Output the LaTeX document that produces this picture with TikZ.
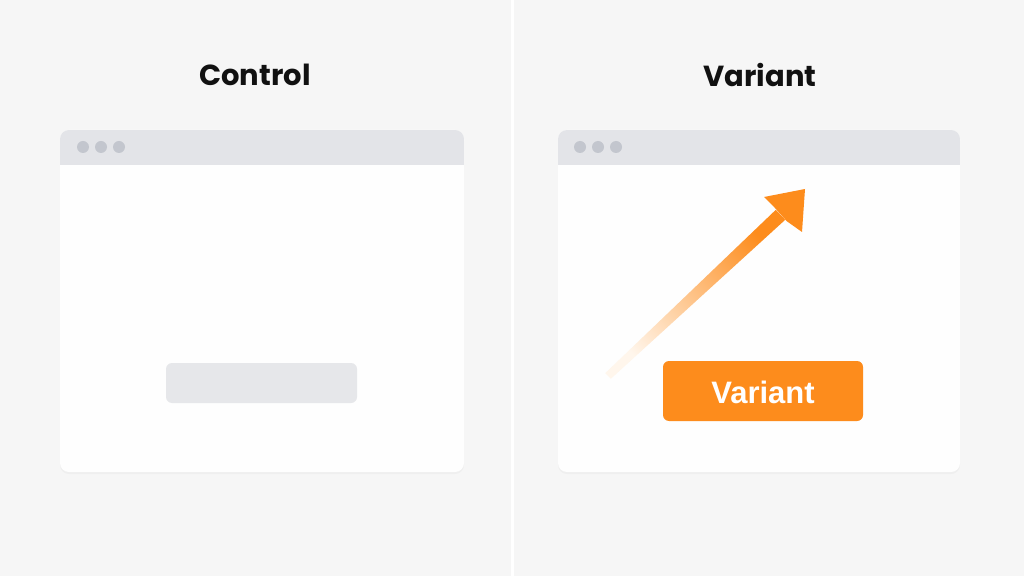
\documentclass[tikz,border=0pt]{standalone}
\usepackage{fontspec}
\newfontfamily\titlefont{Poppins}
\newfontfamily\btnfont{Liberation Sans}
\usetikzlibrary{shadows}
\definecolor{bgc}{HTML}{F6F6F6}
\definecolor{winc}{HTML}{FEFEFE}
\definecolor{barc}{HTML}{E3E4E8}
\definecolor{dotc}{HTML}{C3C6CE}
\definecolor{greybtn}{HTML}{E6E7EA}
\definecolor{orangec}{HTML}{FD8C1C}
\definecolor{tailc}{HTML}{FFF6EC}
\definecolor{titlec}{HTML}{111111}
\tikzset{
  window/.style={fill=winc, rounded corners=9pt, draw=none,
    drop shadow={opacity=0.06, shadow xshift=0pt, shadow yshift=-2pt}},
  topbar/.style={fill=barc, draw=none},
  wdot/.style={circle, fill=dotc, minimum size=12pt, inner sep=0pt},
  title/.style={font=\titlefont\bfseries\fontsize{29}{34}\selectfont, text=titlec},
  btn/.style={rounded corners=6pt, draw=none},
}
\begin{document}
\begin{tikzpicture}[x=1pt,y=1pt]
\useasboundingbox (0,0) rectangle (1024,576);
\fill[bgc] (0,0) rectangle (1024,576);
\fill[white] (511,0) rectangle (513.5,576);

% titles
\node[title] (tc) at (255,501) {Control};
\node[title] (tv) at (760,501) {Variant};

% left window
\path[window] (60,104) rectangle (464,446);
\begin{scope}
  \clip[rounded corners=9pt] (60,104) rectangle (464,446);
  \fill[barc] (60,411) rectangle (464,446);
\end{scope}
\node[wdot] (ld1) at (83,429) {};
\node[wdot] (ld2) at (101,429) {};
\node[wdot] (ld3) at (119,429) {};
\path[btn, fill=greybtn] (166,173) rectangle (357,213);

% right window
\path[window] (558,104) rectangle (960,446);
\begin{scope}
  \clip[rounded corners=9pt] (558,104) rectangle (960,446);
  \fill[barc] (558,411) rectangle (960,446);
\end{scope}
\node[wdot] (rd1) at (580,429) {};
\node[wdot] (rd2) at (598,429) {};
\node[wdot] (rd3) at (616,429) {};

% arrow shaft with gradient
\shade[top color=orangec, bottom color=tailc, shading angle=-46.5]
  (605.2,202.8) -- (610.8,197.2) -- (785.2,356.2) -- (775.8,366.2) -- cycle;
% arrow head
\fill[orangec] (805,387) -- (764,379) -- (774.5,368.5) -- (786.5,355.0) -- (802,344) -- cycle;

% variant button
\path[btn, fill=orangec] (663,155) rectangle (863,215);
\node[font=\btnfont\bfseries\fontsize{31}{36}\selectfont, text=white] (bv) at (763,184) {Variant};
\end{tikzpicture}
\end{document}
